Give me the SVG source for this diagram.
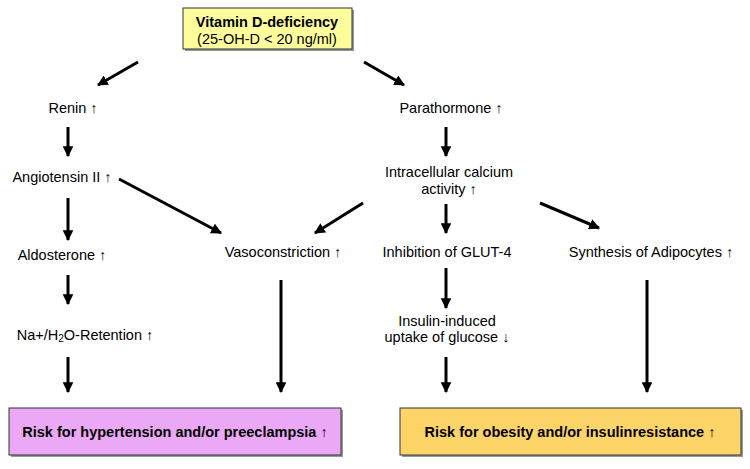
<svg xmlns="http://www.w3.org/2000/svg" width="750" height="469" viewBox="0 0 750 469">
<style>
text{font-family:"Liberation Sans",Arial,sans-serif;font-size:14.5px;fill:#000;text-anchor:middle}
.b{font-weight:bold}
.ln{stroke:#000;stroke-width:3;fill:none}
.box{stroke:#333;stroke-width:1}
.sh{fill:#999}
</style>
<defs>
<marker id="ah" viewBox="0 0 10 10" refX="9" refY="5" markerWidth="3.6" markerHeight="3.6" markerUnits="strokeWidth" orient="auto">
<path d="M0,0 L10,5 L0,10 z" fill="#000"/>
</marker>
</defs>
<rect width="750" height="469" fill="#fff"/>
<g id="vitd">
<rect class="sh" x="185" y="10" width="169" height="41"/>
<rect class="box" x="183" y="8" width="169" height="41" fill="#FDFD9C"/>
<text class="b" x="267" y="27">Vitamin D-deficiency</text>
<text x="267" y="44">(25-OH-D &lt; 20 ng/ml)</text>
</g>
<g id="renin"><text x="73" y="113">Renin ↑</text></g>
<g id="parathormone"><text x="451" y="113">Parathormone ↑</text></g>
<g id="angiotensin"><text x="62" y="182">Angiotensin II ↑</text></g>
<g id="calcium"><text x="449" y="177">Intracellular calcium</text><text x="449" y="194">activity ↑</text></g>
<g id="aldosterone"><text x="62" y="260">Aldosterone ↑</text></g>
<g id="vasoconstriction"><text x="283" y="257">Vasoconstriction ↑</text></g>
<g id="glut4"><text x="447" y="257">Inhibition of GLUT-4</text></g>
<g id="adipocytes"><text x="651" y="257">Synthesis of Adipocytes ↑</text></g>
<g id="retention"><text x="85" y="340">Na+/H<tspan font-size="10px" dy="2">2</tspan><tspan dy="-2">O-Retention ↑</tspan></text></g>
<g id="glucose"><text x="447" y="326">Insulin-induced</text><text x="447" y="342">uptake of glucose ↓</text></g>
<g id="risk-hypertension">
<rect class="sh" x="11" y="410" width="332" height="47"/>
<rect class="box" x="9" y="408" width="332" height="47" fill="#EAA8F6"/>
<text class="b" x="175" y="437">Risk for hypertension and/or preeclampsia ↑</text>
</g>
<g id="risk-obesity">
<rect class="sh" x="402" y="410" width="341" height="47"/>
<rect class="box" x="400" y="408" width="341" height="47" fill="#FDD468"/>
<text class="b" x="570" y="437">Risk for obesity and/or insulinresistance ↑</text>
</g>
<g id="connectors" class="ln">
<line x1="138" y1="62" x2="98" y2="85" marker-end="url(#ah)"/>
<line x1="364" y1="62" x2="404" y2="85" marker-end="url(#ah)"/>
<line x1="68" y1="127" x2="68" y2="156" marker-end="url(#ah)"/>
<line x1="446" y1="127" x2="446" y2="156" marker-end="url(#ah)"/>
<line x1="68" y1="198" x2="68" y2="240" marker-end="url(#ah)"/>
<line x1="119" y1="179" x2="221" y2="233" marker-end="url(#ah)"/>
<line x1="363" y1="203" x2="315" y2="233" marker-end="url(#ah)"/>
<line x1="446" y1="204" x2="446" y2="233" marker-end="url(#ah)"/>
<line x1="540" y1="203" x2="599" y2="228" marker-end="url(#ah)"/>
<line x1="68" y1="275" x2="68" y2="304" marker-end="url(#ah)"/>
<line x1="446" y1="268" x2="446" y2="308" marker-end="url(#ah)"/>
<line x1="68" y1="357" x2="68" y2="392" marker-end="url(#ah)"/>
<line x1="281" y1="280" x2="281" y2="392" marker-end="url(#ah)"/>
<line x1="446" y1="357" x2="446" y2="392" marker-end="url(#ah)"/>
<line x1="647" y1="280" x2="647" y2="392" marker-end="url(#ah)"/>
</g>
</svg>
